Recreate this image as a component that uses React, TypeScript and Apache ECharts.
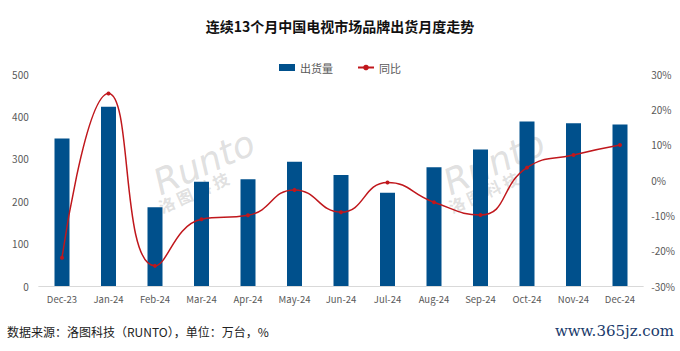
import React, { useEffect, useRef } from "react";
import * as echarts from "echarts";

const categories = ["Dec-23", "Jan-24", "Feb-24", "Mar-24", "Apr-24", "May-24", "Jun-24", "Jul-24", "Aug-24", "Sep-24", "Oct-24", "Nov-24", "Dec-24"];
const shipments = [348, 423, 186, 246, 252, 293, 262, 220, 280, 322, 388, 384, 381];
const yoy = [-22, 24.5, -24.3, -11.1, -10, -2.8, -9.1, -0.7, -6.3, -9.9, 3.5, 7.1, 9.9];

export default function App() {
  const ref = useRef<HTMLDivElement>(null);
  useEffect(() => {
    if (!ref.current) return;
    const chart = echarts.init(ref.current, null, { renderer: "svg" });
    const font = "'Noto Sans CJK SC', 'Noto Sans', sans-serif";
    const wm = "rgba(175,175,175,0.4)";
    chart.setOption({
      animation: false,
      backgroundColor: "#fff",
      title: {
        text: "连续13个月中国电视市场品牌出货月度走势",
        left: "center",
        top: 14,
        textStyle: { fontSize: 14, fontWeight: "bold", color: "#111", fontFamily: font },
      },
      legend: {
        top: 57,
        left: "center",
        itemGap: 24,
        itemWidth: 16,
        itemHeight: 7,
        textStyle: { fontSize: 11, color: "#595959", fontFamily: font },
        data: [
          { name: "出货量", icon: "rect" },
          { name: "同比" },
        ],
      },
      grid: { left: 38.75, right: 36.75, top: 74, bottom: 65, containLabel: false },
      xAxis: {
        type: "category",
        data: categories,
        axisLine: { lineStyle: { color: "#d9d9d9" } },
        axisTick: { show: false },
        axisLabel: { color: "#595959", fontSize: 9.5, margin: 8, fontFamily: font, interval: 0 },
      },
      yAxis: [
        {
          type: "value",
          min: 0,
          max: 500,
          interval: 100,
          splitLine: { show: false },
          axisLine: { show: false },
          axisTick: { show: false },
          axisLabel: { color: "#595959", fontSize: 10, margin: 10, fontFamily: font },
        },
        {
          type: "value",
          min: -30,
          max: 30,
          interval: 10,
          splitLine: { show: false },
          axisLine: { show: false },
          axisTick: { show: false },
          axisLabel: { color: "#595959", fontSize: 10, margin: 8, formatter: "{value}%", fontFamily: font },
        },
      ],
      series: [
        {
          name: "出货量",
          type: "bar",
          data: shipments,
          barWidth: 15,
          itemStyle: { color: "#00508C" },
        },
        {
          name: "同比",
          type: "line",
          yAxisIndex: 1,
          data: yoy,
          smooth: 0.5,
          symbol: "circle",
          symbolSize: 4,
          lineStyle: { color: "#C0171C", width: 1.5 },
          itemStyle: { color: "#C0171C" },
        },
      ],
      graphic: [
        {
          type: "text",
          x: 148,
          y: 168,
          rotation: 0.42,
          style: { text: "Runto", font: "italic 36px 'DejaVu Sans'", fill: wm },
        },
        {
          type: "text",
          x: 156,
          y: 200,
          rotation: 0.42,
          style: { text: "洛 图 科 技", font: "bold 16px 'Noto Sans CJK SC'", fill: wm },
        },
        {
          type: "text",
          x: 438,
          y: 168,
          rotation: 0.42,
          style: { text: "Runto", font: "italic 36px 'DejaVu Sans'", fill: wm },
        },
        {
          type: "text",
          x: 446,
          y: 200,
          rotation: 0.42,
          style: { text: "洛 图 科 技", font: "bold 16px 'Noto Sans CJK SC'", fill: wm },
        },
        {
          type: "text",
          left: 7,
          top: 325,
          style: { text: "数据来源：洛图科技（RUNTO），单位：万台，%", font: "12px 'Noto Sans CJK SC'", fill: "#222" },
        },
        {
          type: "text",
          right: 6,
          top: 323,
          style: { text: "www.365jz.com", font: "15px 'DejaVu Serif'", fill: "#1a3a6b" },
        },
      ],
    });
    return () => chart.dispose();
  }, []);
  return <div ref={ref} style={{ width: 680, height: 351, position: "absolute", left: 0, top: 0 }} />;
}
